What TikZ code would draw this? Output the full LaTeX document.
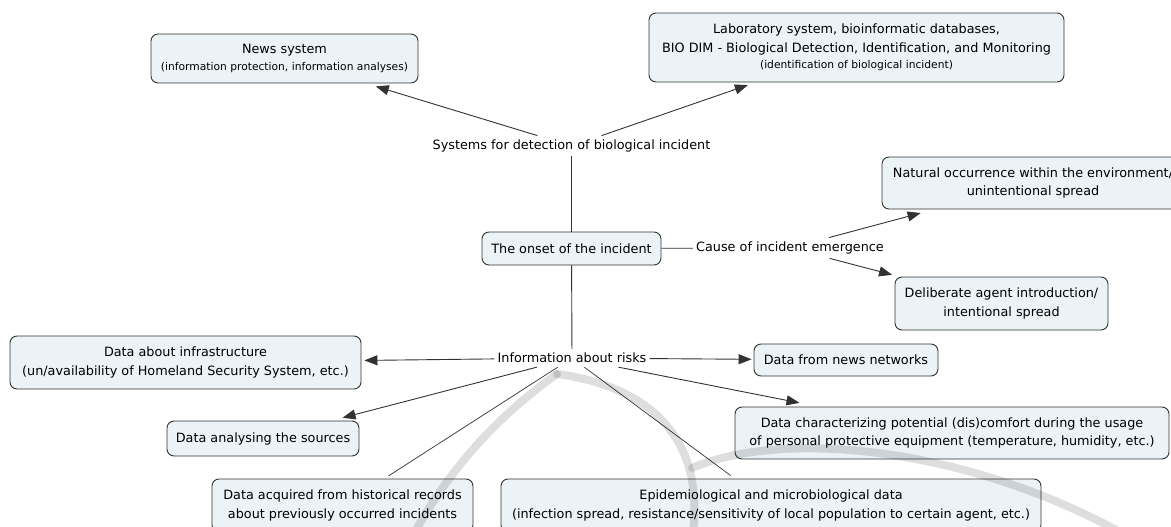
\documentclass[tikz,border=0pt]{standalone}
\usepackage{fontspec}
\setmainfont{DejaVu Sans}
\usetikzlibrary{arrows.meta}

\definecolor{boxfill}{RGB}{235,243,246}
\definecolor{boxline}{RGB}{50,50,50}

\newcommand{\smalltxt}[1]{{\fontsize{10.7}{15}\selectfont #1}}

\tikzset{
  concept/.style={draw=boxline, fill=boxfill, rounded corners=7pt, line width=0.9pt,
    align=center, inner sep=0pt, font=\fontsize{12.8}{18.5}\selectfont},
  linkphrase/.style={inner xsep=3pt, inner ysep=4pt, font=\fontsize{12.8}{18.5}\selectfont},
  link/.style={draw=boxline, line width=0.9pt},
  thinlink/.style={draw=boxline, line width=0.7pt, shorten >=5pt},
  arrowlink/.style={link, -{Triangle[length=13pt,width=10pt]}, shorten >=3pt},
  watermark/.style={draw=black, opacity=0.13, line width=8pt, line cap=round},
}

\begin{document}
\begin{tikzpicture}[x=1pt, y=-1pt]

  \useasboundingbox (0,0) rectangle (1171,527);
  \clip (0,0) rectangle (1171,527);

  % top part
  \node[concept, minimum width=267pt, minimum height=49pt] (news) at (284.5,58.5)
    {News system\\[-1.5pt]\smalltxt{(information protection, information analyses)}};
  \node[concept, minimum width=415pt, minimum height=69pt] (lab) at (856.5,47.5)
    {Laboratory system, bioinformatic databases,\\
     BIO DIM - Biological Detection, Identification, and Monitoring\\[-2.5pt]
     \smalltxt{(identification of biological incident)}};
  \node[linkphrase] (sys) at (571.5,146) {Systems for detection of biological incident};

  % middle part
  \node[concept, minimum width=179pt, minimum height=33pt] (onset) at (571.5,248.5) {The onset of the incident};
  \node[linkphrase] (cause) at (790,248) {Cause of incident emergence};
  \node[concept, minimum width=302pt, minimum height=52pt] (natural) at (1033,183)
    {Natural occurrence within the environment/\\unintentional spread};
  \node[concept, minimum width=213pt, minimum height=53pt] (deliberate) at (1001.5,303.5)
    {Deliberate agent introduction/\\intentional spread};

  % bottom part
  \node[linkphrase] (info) at (572,358) {Information about risks};
  \node[concept, minimum width=351pt, minimum height=53pt] (infra) at (185.5,362.5)
    {Data about infrastructure\\(un/availability of Homeland Security System, etc.)};
  \node[concept, minimum width=184pt, minimum height=32pt] (newsnet) at (846,360) {Data from news networks};
  \node[concept, minimum width=192pt, minimum height=35pt] (sources) at (263,438.5) {Data analysing the sources};
  \node[concept, minimum width=434pt, minimum height=52pt] (discomfort) at (952,433)
    {Data characterizing potential (dis)comfort during the usage\\
     of personal protective equipment (temperature, humidity, etc.)};
  \node[concept, minimum width=261pt, minimum height=53pt] (hist) at (342.5,505.5)
    {Data acquired from historical records\\about previously occurred incidents};
  \node[concept, minimum width=540pt, minimum height=53pt] (epi) at (771,505.5)
    {Epidemiological and microbiological data\\
     (infection spread, resistance/sensitivity of local population to certain agent, etc.)};

  % connectors
  \draw[link] (sys) -- (onset);
  \draw[link] (onset) -- (info);
  \draw[link] (onset) -- (cause);
  \draw[arrowlink, shorten >=10pt] (sys) -- (news);
  \draw[arrowlink, shorten >=8pt] (sys) -- (lab);
  \draw[arrowlink, shorten >=14pt] (cause) -- (natural);
  \draw[arrowlink, shorten >=7pt] (cause) -- (deliberate);
  \draw[arrowlink] (info) -- (infra);
  \draw[arrowlink, shorten >=2pt] (info) -- (newsnet);
  \draw[arrowlink, shorten >=11pt] (info) -- (sources);
  \draw[arrowlink, shorten >=19pt] (info) -- (discomfort);
  \draw[thinlink] (info) -- (hist);
  \draw[thinlink] (info) -- (epi);

  % grey marks over the lower part
  \draw[watermark] (557,374) .. controls (520,400) and (460,450) .. (415,532);
  \draw[watermark] (557,374) .. controls (640,385) and (705,430) .. (693,532);
  \draw[watermark] (692,468) .. controls (780,430) and (960,445) .. (1120,532);

\end{tikzpicture}
\end{document}
